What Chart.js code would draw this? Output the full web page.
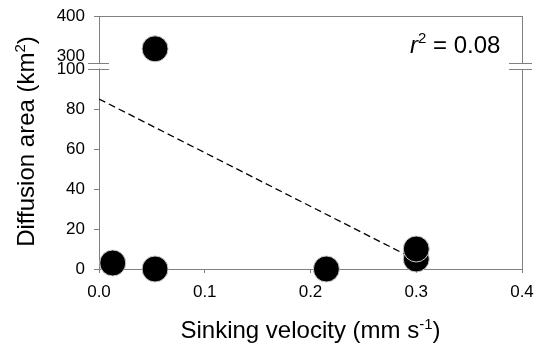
<!DOCTYPE html>
<html><head><meta charset="utf-8">
<script src="https://cdn.jsdelivr.net/npm/chart.js@4"></script>
<style>html,body{margin:0;padding:0;background:#fff}</style>
</head><body>
<canvas id="c" width="536" height="347"></canvas>
<script>
// ---- data ----
const velocity = [0.013, 0.053, 0.215, 0.3, 0.3];
const area = [3, 0, 0, 5, 10];
const velocityHigh = [0.053];
const areaHigh = [318];
const fitX = [0, 0.3];
const fitY = [85, 4.5];
const xTicks = [0, 0.1, 0.2, 0.3, 0.4];
const yLowTicks = [0, 20, 40, 60, 80, 100];
const yHighTicks = [300, 400];
const rSquared = '0.08';
const xTitle = ['Sinking velocity (mm s', '-1', ')'];
const yTitle = ['Diffusion area (km', '2', ')'];

const FAM = '"Liberation Sans", Arial, sans-serif';
const AXIS = '#808080';
const tickFont = {family: FAM, size: 17};

const lowPts = velocity.map((v, i) => ({x: v, y: area[i]}));
const highPts = velocityHigh.map((v, i) => ({x: v, y: areaHigh[i]}));
const fitPts = fitX.map((v, i) => ({x: v, y: fitY[i]}));

function drawSup(ctx, parts, x, y, align) {
  const big = '24px ' + FAM, small = '15px ' + FAM;
  ctx.font = big; const w0 = ctx.measureText(parts[0]).width;
  ctx.font = small; const w1 = ctx.measureText(parts[1]).width;
  ctx.font = big; const w2 = ctx.measureText(parts[2]).width;
  const total = w0 + w1 + w2;
  let sx = align === 'center' ? x - total / 2 : x;
  ctx.textAlign = 'left'; ctx.textBaseline = 'alphabetic';
  ctx.font = big; ctx.fillText(parts[0], sx, y);
  ctx.font = small; ctx.fillText(parts[1], sx + w0, y - 9);
  ctx.font = big; ctx.fillText(parts[2], sx + w0 + w1, y);
}

function noPad(s) { s.paddingLeft = 0; s.paddingRight = 0; s.paddingTop = 0; s.paddingBottom = 0; }

const decor = {
  id: 'decor',
  afterDraw(chart) {
    const ctx = chart.ctx;
    const a = chart.chartArea;
    const yl = chart.scales.yLow;
    const gapBottom = yl.top;
    const gapTop = yl.top - 6;
    ctx.save();
    ctx.fillStyle = '#fff';
    ctx.fillRect(a.left - 2, gapTop + 0.6, 4, gapBottom - gapTop - 1.2);
    ctx.strokeStyle = AXIS; ctx.lineWidth = 1;
    ctx.beginPath();
    ctx.moveTo(a.left, a.top + 0.5); ctx.lineTo(a.right + 0.5, a.top + 0.5);
    ctx.moveTo(a.right + 0.5, a.top); ctx.lineTo(a.right + 0.5, gapTop);
    ctx.moveTo(a.right + 0.5, gapBottom); ctx.lineTo(a.right + 0.5, a.bottom);
    [gapTop, gapBottom].forEach(y => {
      ctx.moveTo(a.left - 11, y + 0.5); ctx.lineTo(a.left + 10, y + 0.5);
      ctx.moveTo(a.right - 13, y + 0.5); ctx.lineTo(a.right + 10, y + 0.5);
    });
    ctx.stroke();

    ctx.fillStyle = '#000';
    drawSup(ctx, xTitle, (a.left + a.right) / 2, 338, 'center');
    ctx.save();
    ctx.translate(34, (a.top + a.bottom) / 2 - 1);
    ctx.rotate(-Math.PI / 2);
    drawSup(ctx, yTitle, 0, 0, 'center');
    ctx.restore();
    ctx.textAlign = 'left'; ctx.textBaseline = 'alphabetic';
    let x = 410, y = 53;
    ctx.font = 'italic 24px ' + FAM; ctx.fillText('r', x, y);
    x += ctx.measureText('r').width;
    ctx.font = '15px ' + FAM; ctx.fillText('2', x, y - 10);
    x += ctx.measureText('2').width;
    ctx.font = '24px ' + FAM; ctx.fillText(' = ' + rSquared, x, y);
    ctx.restore();
  }
};

new Chart(document.getElementById('c'), {
  data: {
    datasets: [
      {type: 'scatter', data: lowPts, xAxisID: 'x', yAxisID: 'yLow',
       backgroundColor: '#000', borderColor: '#c8c8c8', borderWidth: 1, pointRadius: 13, pointHoverRadius: 13, clip: false},
      {type: 'scatter', data: highPts, xAxisID: 'x', yAxisID: 'yHigh',
       backgroundColor: '#000', borderColor: '#c8c8c8', borderWidth: 1, pointRadius: 13, pointHoverRadius: 13, clip: false},
      {type: 'line', data: fitPts, xAxisID: 'x', yAxisID: 'yLow',
       borderColor: '#000', borderWidth: 1.3, borderDash: [7, 4], pointRadius: 0, fill: false, tension: 0}
    ]
  },
  options: {
    responsive: false, animation: false, devicePixelRatio: 1,
    layout: {padding: {top: 16, right: 11, left: 0, bottom: 0}},
    plugins: {legend: {display: false}, tooltip: {enabled: false}},
    scales: {
      x: {type: 'linear', position: 'bottom', min: 0, max: 0.4,
        afterBuildTicks: s => { s.ticks = xTicks.map(v => ({value: v})); },
        afterFit: s => { s.height = 78; noPad(s); },
        ticks: {font: tickFont, color: '#000', padding: 9, maxRotation: 0, callback: v => Number(v).toFixed(1)},
        grid: {drawOnChartArea: false, tickLength: 4, color: AXIS},
        border: {color: AXIS, width: 1}},
      yLow: {type: 'linear', position: 'left', stack: 'v', stackWeight: 200, min: 0, max: 100,
        afterBuildTicks: s => { s.ticks = yLowTicks.map(v => ({value: v})); },
        afterFit: s => { s.width = 99; noPad(s); },
        ticks: {font: tickFont, color: '#000', padding: 9},
        grid: {drawOnChartArea: false, tickLength: 5, color: AXIS},
        border: {color: AXIS, width: 1}},
      yHigh: {type: 'linear', position: 'left', stack: 'v', stackWeight: 53, min: 267.5, max: 400,
        afterBuildTicks: s => { s.ticks = yHighTicks.map(v => ({value: v})); },
        afterFit: s => { s.width = 99; noPad(s); },
        ticks: {font: tickFont, color: '#000', padding: 9},
        grid: {drawOnChartArea: false, tickLength: 5, color: AXIS,
               tickColor: c => (c.tick && c.tick.value === 300) ? 'rgba(0,0,0,0)' : AXIS},
        border: {color: AXIS, width: 1}}
    }
  },
  plugins: [decor]
});
</script>
</body></html>
